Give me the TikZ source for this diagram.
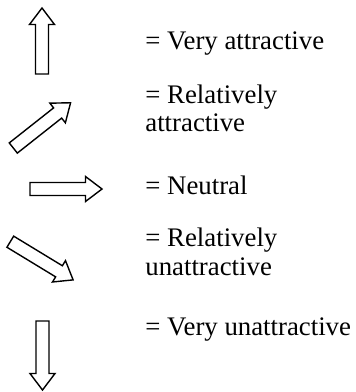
\documentclass[tikz,border=0pt]{standalone}
\usepackage{fontspec}
\setmainfont{Liberation Serif}
\usepackage{tikz}
\usetikzlibrary{positioning}
\definecolor{inkblack}{RGB}{0, 0, 0}
\tikzset{
    outline/.style={draw=inkblack, line width=0.7pt, fill=white, line join=miter},
    fatarrow/.pic={
      % shaft half width 6.5, head half width 12.5, head length 16.5
      \draw[outline] (0,-6.5) -- (#1-16.5,-6.5) -- (#1-16.5,-12.5) -- (#1,0)
                     -- (#1-16.5,12.5) -- (#1-16.5,6.5) -- (0,6.5) -- cycle;
    },
    lbl/.style   ={anchor=base west, inner sep=0pt, align=left,
                   font=\fontsize{13.4}{14.2}\selectfont}
}

\begin{document}
\begin{tikzpicture}[x=0.5pt, y=-0.5pt]
  \useasboundingbox (0,0) rectangle (355,392);

  % arrows, drawn from the tail
  \pic (aup)   [rotate=90]   at (42,74)     {fatarrow=66};
  \pic (aupr)  [rotate=38.3] at (13.3,148)  {fatarrow=73};
  \pic (aright)              at (30,189)    {fatarrow=72};
  \pic (adownr)[rotate=-31.3] at (10.3,241.7) {fatarrow=73.5};
  \pic (adown) [rotate=-90]  at (42.5,321)  {fatarrow=69};

  % labels (base of the last line)
  \node[lbl] (veryatt)   at (145, 49.5) {= Very attractive};
  \node[lbl] (relatt)    at (145,131.7) {= Relatively\\attractive};
  \node[lbl] (neutral)   at (145,194.5) {= Neutral};
  \node[lbl] (relunatt)  at (145,275)   {= Relatively\\unattractive};
  \node[lbl] (veryunatt) at (145,335)   {= Very unattractive};
\end{tikzpicture}
\end{document}
